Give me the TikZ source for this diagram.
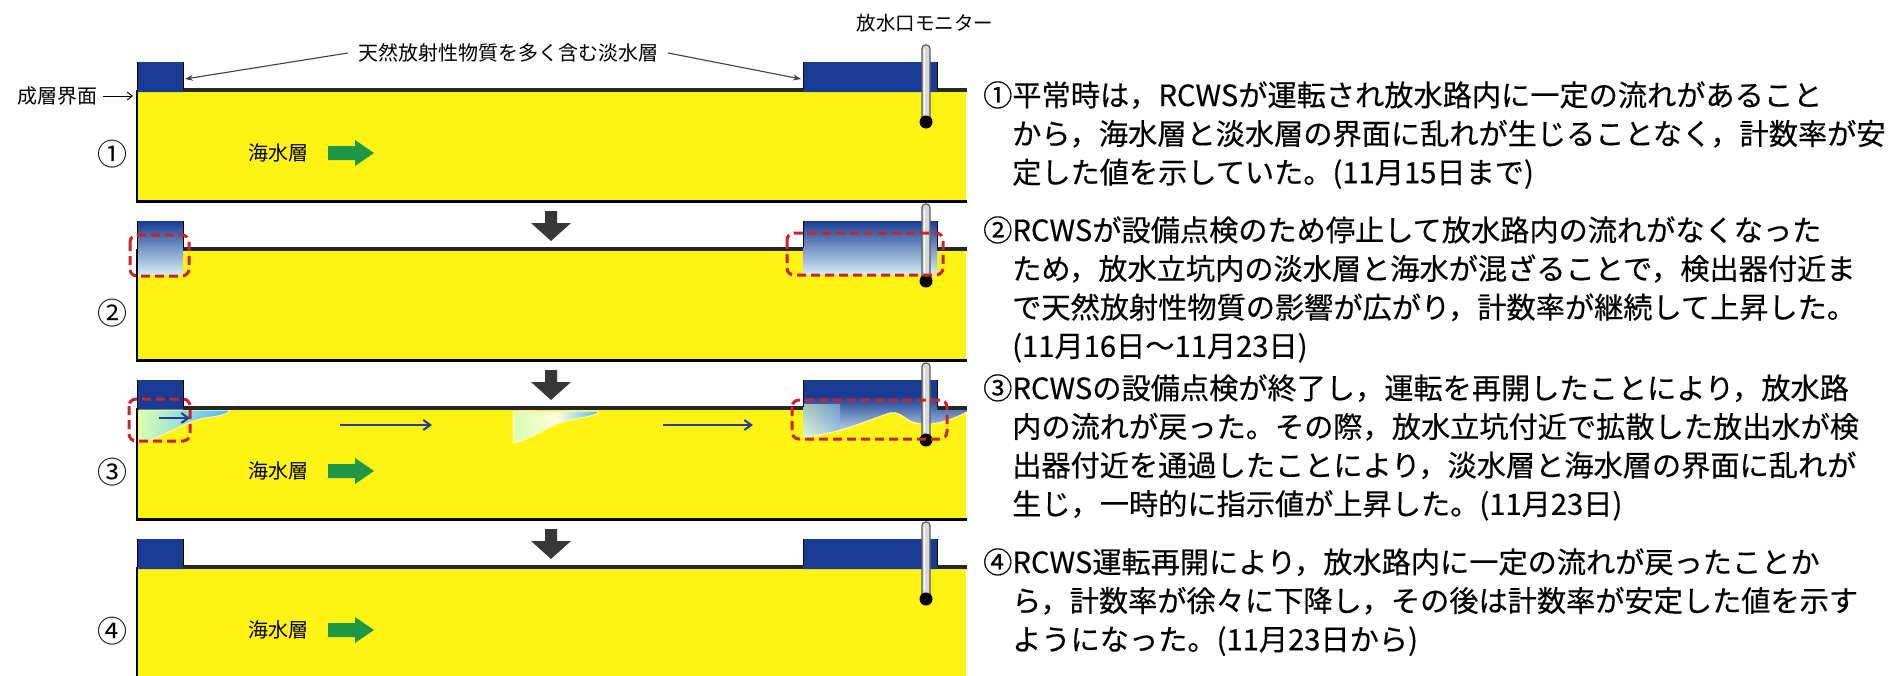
\documentclass[tikz,border=0pt]{standalone}
\usepackage{fontspec}
\newfontfamily\jp{Noto Sans CJK JP}
\newfontfamily\jpb{Noto Sans CJK JP}[FakeBold=0.35]
\usetikzlibrary{calc,arrows.meta}

\definecolor{sea}{RGB}{255,243,20}
\definecolor{fresh}{RGB}{24,60,148}
\definecolor{mixed}{RGB}{70,135,205}
\definecolor{pale}{RGB}{212,236,242}
\definecolor{go}{RGB}{30,152,70}
\definecolor{zone}{RGB}{205,35,40}
\definecolor{flow}{RGB}{40,62,148}

\begin{document}
\begin{tikzpicture}[x=1pt,y=-1pt,
    lbl/.style={font=\jp\fontsize{20}{24}\selectfont, inner sep=0pt},
    desc/.style={font=\jpb\fontsize{29.2}{36}\selectfont, anchor=base west, inner sep=0pt},
    lead/.style={black!75, line width=1.1pt, -{Stealth[length=8pt,width=6pt]}},
    wall/.style={line width=1pt},
    check/.style={zone, line width=3pt, dash pattern=on 9pt off 5pt, rounded corners=7pt},
    stream/.style={flow, line width=2pt, -{Straight Barb[length=7pt,width=10pt]}},
    plume/.style={draw=yellow!35!white, line width=1pt, left color=yellow!50!green!30!white, right color=cyan!60!blue!70!white}]

    \useasboundingbox (0,0) rectangle (1893,675);

    \foreach \T in {62,221,380,539}{
        \fill[sea] (137,\T+30) rectangle (966,\T+139);
        \fill[fresh] (137,\T) rectangle (183,\T+30) (803,\T) rectangle (937,\T+30);
    }

    \shade[top color=fresh, middle color=mixed, bottom color=pale] (137,221) rectangle (183,274);
    \shade[top color=fresh, middle color=mixed, bottom color=pale] (803,221) rectangle (937,274);

    \shade[plume] (139,410) -- (139,443) .. controls (160,440) and (180,423) .. (205,418)
        .. controls (222,416) and (231,413) .. (229,410) -- cycle;
    \shade[plume, middle color=white!85!yellow] (513,411) -- (513,443) .. controls (532,440) and (548,424) .. (575,419)
        .. controls (592,416) and (600,414) .. (598,411) -- cycle;
    \shade[top color=fresh, middle color=mixed, bottom color=pale] (803,396) -- (803,437)
        .. controls (840,434) and (868,420) .. (890,413) .. controls (897,411) and (902,416) .. (910,421)
        .. controls (925,428) and (946,423) .. (967,412) -- (967,410) -- (937,410) -- (937,396) -- cycle;
    \begin{scope}
        \clip (803,396) -- (803,437) .. controls (840,434) and (868,420) .. (890,413) -- (890,396) -- cycle;
        \shade[left color=yellow!35!green!20!white, right color=mixed!60!white, opacity=0.65] (803,404) rectangle (840,440);
    \end{scope}
    \draw[yellow!30!white, line width=1pt] (803,437) .. controls (840,434) and (868,420) .. (890,413)
        .. controls (897,411) and (902,416) .. (910,421) .. controls (925,428) and (946,423) .. (967,412);

    \foreach \k/\T/\n in {1/62/①,2/221/②,3/380/③,4/539/④}{
        \draw[line width=3pt] (136,\T+139) -- (967,\T+139);
        \draw[line width=1.5pt] (137,\T+28) -- (137,\T+139);
        \draw[line width=4pt, black!85] (183,\T+28) -- (803,\T+28) (937,\T+28) -- (967,\T+28);
        \draw[wall] (137,\T) -- (137,\T+30) (183,\T) -- (183,\T+27) (803,\T) -- (803,\T+27) (937,\T) -- (937,\T+27);
        \draw[black!65, fill=gray!30, line width=1.2pt, rounded corners=3.5pt] (922,\T-17) rectangle (930,\T+60);
        \draw[white, line width=1.2pt] (924.6,\T-12) -- (924.6,\T+52);
        \fill (926,\T+60) circle (6.5);
        \node[font=\jp\fontsize{30}{30}\selectfont, inner sep=0pt] (no\k) at (112,\T+92) {\n};
        \ifnum\k>1
            \fill[black!78] (545,\T-10) -- ++(12,0) -- ++(0,12) -- ++(14,0) -- ++(-20,18) -- ++(-20,-18) -- ++(14,0) -- cycle;
        \fi
    }

    \foreach \T in {62,380,539}{
        \node[lbl] (salt\T) at (278,\T+91) {海水層};
        \fill[go] (328,\T+84) -- ++(27,0) -- ++(0,-6) -- ++(19,13) -- ++(-19,13) -- ++(0,-6) -- ++(-27,0) -- cycle;
    }

    \draw[check] (130,235) rectangle (189,276);
    \draw[check] (787,233) rectangle (943,275);
    \draw[check] (129,399) rectangle (190,441);
    \draw[check] (792,400) rectangle (947,439);

    \foreach \a/\b/\y [count=\i] in {159/190/418, 340/432/425, 663/753/425}{
        \coordinate (from\i) at (\a,\y);
        \coordinate (to\i) at (\b,\y);
        \draw[stream] (from\i) -- (to\i);
    }

    \node[lbl, inner xsep=10pt] (freshlbl) at (508,53) {天然放射性物質を多く含む淡水層};
    \coordinate (lc) at (185,79);
    \coordinate (rc) at (801,79);
    \draw[lead] (freshlbl.west) -- (lc);
    \draw[lead] (freshlbl.east) -- (rc);

    \node[lbl, anchor=east, inner xsep=5pt] (iface) at (103,96) {成層界面};
    \coordinate (ifacetip) at (133,96);
    \draw[line width=1pt, -{Straight Barb[length=5pt,width=8pt]}] (iface.east) -- (ifacetip);

    \node[font=\jp\fontsize{19.5}{20}\selectfont, inner sep=0pt] (monitor) at (925,23) {放水口モニター};

    \foreach \t [count=\i from 0] in {{①平常時は，RCWSが運転され放水路内に一定の流れがあること},
        {から，海水層と淡水層の界面に乱れが生じることなく，計数率が安},
        {定した値を示していた。(11月15日まで)}}
        \node[desc] (ta\i) at ({\i==0 ? 983 : 1012},{106+38.6*\i}) {\t};
    \foreach \t [count=\i from 0] in {{②RCWSが設備点検のため停止して放水路内の流れがなくなった},
        {ため，放水立坑内の淡水層と海水が混ざることで，検出器付近ま},
        {で天然放射性物質の影響が広がり，計数率が継続して上昇した。},
        {(11月16日～11月23日)}}
        \node[desc] (tb\i) at ({\i==0 ? 983 : 1012},{241+38.6*\i}) {\t};
    \foreach \t [count=\i from 0] in {{③RCWSの設備点検が終了し，運転を再開したことにより，放水路},
        {内の流れが戻った。その際，放水立坑付近で拡散した放出水が検},
        {出器付近を通過したことにより，淡水層と海水層の界面に乱れが},
        {生じ，一時的に指示値が上昇した。(11月23日)}}
        \node[desc] (tc\i) at ({\i==0 ? 983 : 1012},{399+38.6*\i}) {\t};
    \foreach \t [count=\i from 0] in {{④RCWS運転再開により，放水路内に一定の流れが戻ったことか},
        {ら，計数率が徐々に下降し，その後は計数率が安定した値を示す},
        {ようになった。(11月23日から)}}
        \node[desc] (td\i) at ({\i==0 ? 983 : 1012},{573+38.6*\i}) {\t};
\end{tikzpicture}
\end{document}
